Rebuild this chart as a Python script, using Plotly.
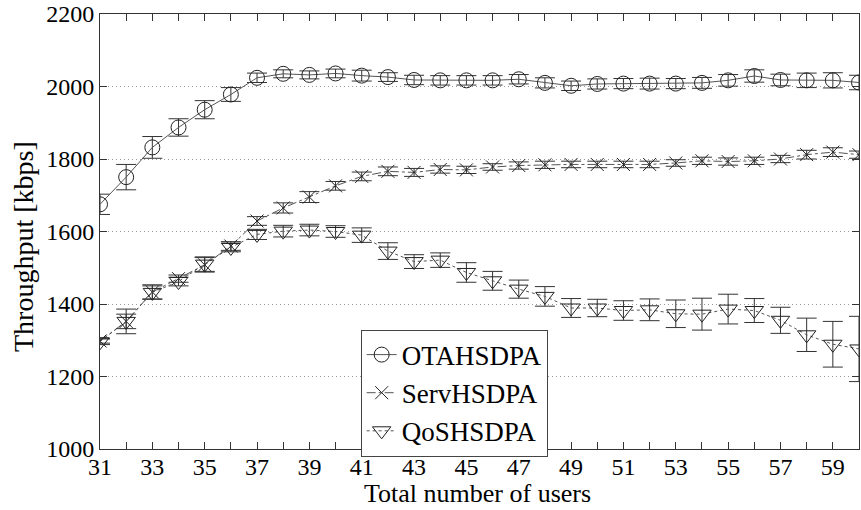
import plotly.graph_objects as go

# Number of users in the cell
users = list(range(31, 61))

# Mean throughput per scheduler [kbps]
ota_hsdpa = [1675, 1750, 1832, 1887, 1936, 1978, 2024, 2035, 2032, 2036,
             2030, 2026, 2018, 2017, 2017, 2017, 2020, 2010, 2002, 2007,
             2008, 2008, 2008, 2010, 2017, 2029, 2018, 2017, 2017, 2011]
serv_hsdpa = [1298, 1352, 1433, 1470, 1508, 1560, 1629, 1665, 1695, 1726,
              1752, 1766, 1763, 1771, 1770, 1778, 1782, 1784, 1785, 1785,
              1785, 1785, 1789, 1795, 1793, 1795, 1800, 1812, 1819, 1812]
qos_hsdpa = [1296, 1352, 1432, 1462, 1510, 1556, 1592, 1601, 1604, 1600,
             1590, 1546, 1517, 1521, 1487, 1464, 1441, 1421, 1389, 1389,
             1382, 1384, 1373, 1372, 1386, 1382, 1355, 1315, 1289, 1276]

# Confidence half-widths [kbps]
ota_err = [28, 35, 30, 24, 25, 19, 13, 11, 11, 12,
           15, 12, 13, 13, 13, 13, 13, 14, 13, 14,
           14, 15, 14, 15, 16, 17, 16, 20, 21, 20]
serv_err = [6, 34, 20, 10, 20, 12, 12, 14, 15, 12,
            12, 12, 11, 10, 10, 9, 10, 10, 9, 9,
            9, 9, 9, 10, 10, 10, 10, 12, 12, 10]
qos_err = [8, 20, 18, 12, 20, 12, 14, 16, 16, 16,
           20, 23, 19, 20, 27, 26, 25, 27, 26, 24,
           27, 30, 38, 44, 41, 33, 36, 46, 63, 90]

x_tick_vals = list(range(31, 61, 2))
y_tick_vals = list(range(1000, 2201, 200))

x_title = "Total number of users"
y_title = "Throughput [kbps]"

FONT = "Times New Roman, Liberation Serif, serif"
INK = "#222222"
AXIS = "#333333"

series = [
    ("OTAHSDPA", ota_hsdpa, ota_err, "solid", "circle-open", 15),
    ("ServHSDPA", serv_hsdpa, serv_err, "dashdot", "x-thin-open", 13),
    ("QoSHSDPA", qos_hsdpa, qos_err, "dot", "triangle-down-open", 16),
]

fig = go.Figure()
for name, vals, err, dash, symbol, size in series:
    fig.add_trace(go.Scatter(
        x=users, y=vals, name=name, mode="lines+markers",
        line=dict(color="#555555", width=1, dash=dash),
        marker=dict(symbol=symbol, size=size, color=INK,
                    line=dict(color=INK, width=1)),
        error_y=dict(type="data", array=err, visible=True,
                     color=AXIS, thickness=1, width=10),
    ))

# plot area spans pixels x 100..860, y 12..449
PX_L, PX_R, PX_T, PX_B = 100, 860, 12, 449


def paper_x(px):
    return (px - PX_L) / (PX_R - PX_L)


def paper_y(py):
    return (PX_B - py) / (PX_B - PX_T)


fig.update_layout(
    width=861, height=510,
    margin=dict(l=PX_L, r=861 - PX_R, t=PX_T, b=510 - PX_B),
    paper_bgcolor="white", plot_bgcolor="white",
    font=dict(family=FONT, size=24, color="black"),
    legend=dict(
        x=paper_x(361), y=paper_y(329),
        xanchor="left", yanchor="top",
        bgcolor="white", bordercolor="#444444", borderwidth=1,
        font=dict(family=FONT, size=27, color="black"),
        tracegroupgap=0, itemwidth=30,
    ),
    showlegend=True,
    annotations=[
        dict(text=x_title, xref="paper", yref="paper",
             x=paper_x(478), y=paper_y(494), xanchor="center", yanchor="middle",
             showarrow=False, font=dict(family=FONT, size=26, color="black")),
        dict(text=y_title, xref="paper", yref="paper", textangle=-90,
             x=paper_x(24), y=paper_y(246), xanchor="center", yanchor="middle",
             showarrow=False, font=dict(family=FONT, size=28, color="black")),
    ],
)

fig.update_xaxes(
    range=[31, 60], tickvals=x_tick_vals,
    ticks="inside", ticklen=7, tickcolor=AXIS,
    minor=dict(dtick=1, tick0=31, ticks="inside", ticklen=7, tickcolor=AXIS),
    showline=True, linecolor=AXIS, linewidth=1, mirror="ticks",
    showgrid=False, zeroline=False,
    tickfont=dict(family=FONT, size=24, color="black"),
    ticklabeloverflow="allow", ticklabelstandoff=-4,
)
fig.update_yaxes(
    range=[1000, 2200], tickvals=y_tick_vals,
    ticks="inside", ticklen=7, tickcolor=AXIS,
    showline=True, linecolor=AXIS, linewidth=1, mirror="ticks",
    showgrid=True, gridcolor="#999999", griddash="1px,3px", gridwidth=1,
    zeroline=False,
    tickfont=dict(family=FONT, size=24, color="black"),
    ticklabeloverflow="allow",
)

fig.write_html("out.html")
